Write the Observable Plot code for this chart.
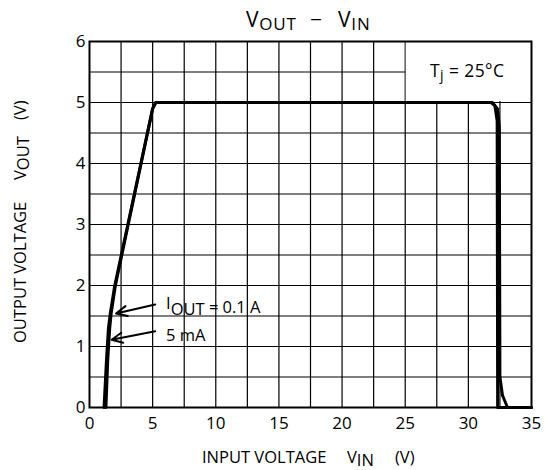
<!DOCTYPE html>
<html><head><meta charset="utf-8">
<script src="https://cdn.jsdelivr.net/npm/d3@7"></script>
<script src="https://cdn.jsdelivr.net/npm/@observablehq/plot@0.6"></script>
<style>body{margin:0;background:#fff} svg{display:block}</style>
</head><body><div id="chart"></div>
<script>
// Axis ticks and grid
const xTicks = [0, 5, 10, 15, 20, 25, 30, 35];
const yTicks = [0, 1, 2, 3, 4, 5, 6];
const xGrid = [2.5, 5, 7.5, 10, 12.5, 15, 17.5, 20, 22.5, 25, 27.5, 30, 32.5];
const yGrid = [0.5, 1, 1.5, 2, 2.5, 3, 3.5, 4, 4.5, 5, 5.5];

// Curve IOUT = 0.1 A
const vin01  = [1.3, 1.45, 1.6, 1.72, 2.05, 5.0, 5.25, 31.8, 32.1, 32.28, 32.32, 35];
const vout01 = [0,   0.8,  1.3, 1.55, 2.0,  4.9, 5.0,  5.0,  4.95, 4.7,   0,     0];
// Curve IOUT = 5 mA
const vin5   = [1.15, 1.35, 1.5, 1.65, 2.0, 5.0, 5.25, 31.9, 32.3, 32.45, 32.5, 32.7, 33.1, 35];
const vout5  = [0,    0.8,  1.3, 1.55, 2.0, 4.9, 5.0,  5.0,  4.9,  4.6,   0.5,  0.2,  0,    0];

// Annotation arrows (data coords): tail -> tip
const arrowLabels = ["0.1 A", "5 mA"];
const arrowX1 = [5.2, 5.2];
const arrowY1 = [1.69, 1.25];
const arrowX2 = [2.1, 1.75];
const arrowY2 = [1.54, 1.11];
// Text anchors for annotations (data coords)
const labelX = [6.1, 6.1];
const labelY = [1.64, 1.18];

const curves = [
  ...vin01.map((v, i) => ({vin: v, vout: vout01[i], s: "0.1 A"})),
  ...vin5.map((v, i) => ({vin: v, vout: vout5[i], s: "5 mA"}))
];
const arrows = arrowLabels.map((s, i) => ({s, x1: arrowX1[i], y1: arrowY1[i], x2: arrowX2[i], y2: arrowY2[i]}));

const FONT = "'Open Sans', 'Noto Sans', sans-serif";

const plot = Plot.plot({
  width: 545, height: 470,
  marginLeft: 89, marginRight: 14, marginTop: 41, marginBottom: 63,
  style: {fontFamily: FONT, fontSize: "17px", color: "black", background: "white"},
  x: {domain: [0, 35]},
  y: {domain: [0, 6]},
  marks: [
    Plot.ruleX(xGrid, {stroke: "black", strokeWidth: 1.2}),
    Plot.ruleY(yGrid, {stroke: "black", strokeWidth: 1.2}),
    Plot.rect([{x1: 25, x2: 35, y1: 5, y2: 6}], {x1: "x1", x2: "x2", y1: "y1", y2: "y2", fill: "white", insetLeft: 1, insetBottom: 1}),
    Plot.frame({stroke: "black", strokeWidth: 2}),
    Plot.line(curves, {x: "vin", y: "vout", z: "s", stroke: "black", strokeWidth: 3, strokeLinejoin: "round"}),
    Plot.arrow(arrows, {x1: "x1", y1: "y1", x2: "x2", y2: "y2", stroke: "black", strokeWidth: 2, headLength: 9, headAngle: 50}),
    Plot.axisX({ticks: xTicks, tickSize: 0, tickPadding: 9, tickFormat: "d", label: null, fontSize: 17}),
    Plot.axisY({ticks: yTicks, tickSize: 0, tickPadding: 4, tickFormat: "d", label: null, fontSize: 17})
  ]
});

const svg = d3.select(plot);
const sxS = plot.scale("x"), syS = plot.scale("y");
const sx = v => sxS.apply(v), sy = v => syS.apply(v);

function sub(g, x, y, parts, opts = {}) {
  const t = g.append("text").attr("x", x).attr("y", y)
    .attr("font-family", FONT).attr("fill", "black")
    .attr("font-size", opts.size || 16.5)
    .attr("text-anchor", opts.anchor || "start")
    .style("white-space", "pre");
  if (opts.spacing) t.attr("letter-spacing", opts.spacing);
  if (opts.rotate) t.attr("transform", `rotate(-90 ${x} ${y})`);
  let shift = 0;
  for (const p of parts) {
    const ts = t.append("tspan").text(p.t);
    const d = (p.dy || 0) - shift;
    if (d) ts.attr("dy", d);
    shift = p.dy || 0;
    if (p.size) ts.attr("font-size", p.size);
  }
  return t;
}

const g = svg.append("g");
// Title
sub(g, 246, 27, [{t: "V", size: 21}, {t: "OUT", size: 17, dy: 3}], {spacing: 0.8});
sub(g, 310, 27, [{t: "\u2212", size: 21}]);
sub(g, 338, 27, [{t: "V", size: 21}, {t: "IN", size: 17, dy: 3}], {spacing: 0.8});
// X label
sub(g, 202, 463, [{t: "INPUT VOLTAGE"}]);
sub(g, 347, 463, [{t: "V"}, {t: "IN", dy: 3}]);
sub(g, 395, 463, [{t: "(V)"}]);
// Y label (rotated)
sub(g, 26, 343, [{t: "OUTPUT VOLTAGE"}], {rotate: true});
sub(g, 26, 180, [{t: "V"}, {t: "OUT", dy: 3}], {rotate: true});
sub(g, 26, 120, [{t: "(V)"}], {rotate: true});
// Tj label
sub(g, 430, 77, [{t: "T"}, {t: "j", size: 14, dy: 3}, {t: " = 25\u00B0C"}], {size: 17.5, spacing: 0.4});
// Annotation labels
sub(g, sx(labelX[0]), sy(labelY[0]) + 6, [{t: "I", dy: -4}, {t: "OUT", dy: 2}, {t: " = 0.1 A"}]);
sub(g, sx(labelX[1]), sy(labelY[1]) + 6, [{t: "5 mA"}]);

document.getElementById("chart").appendChild(plot);
</script>
</body></html>
